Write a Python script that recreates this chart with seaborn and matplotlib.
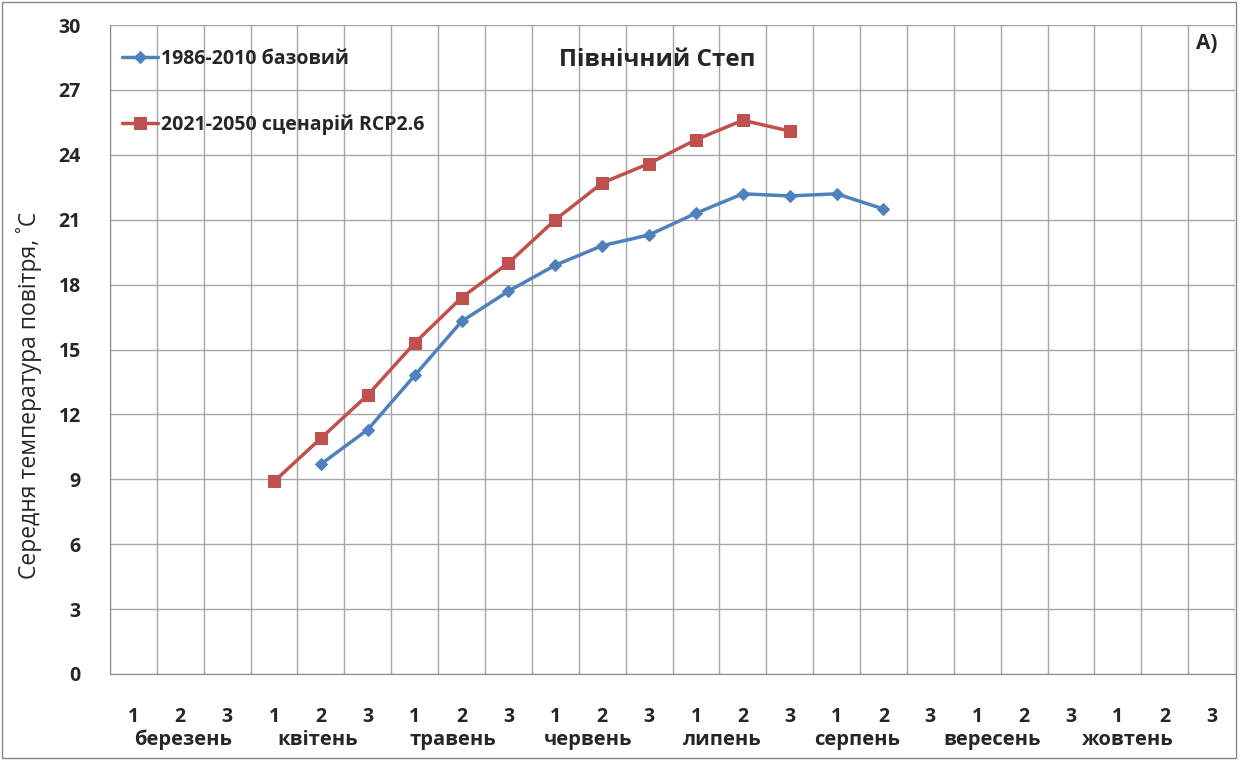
import numpy as np
import pandas as pd
import matplotlib
matplotlib.use("Agg")
import matplotlib.pyplot as plt
import seaborn as sns

months = ["березень", "квітень", "травень", "червень", "липень", "серпень", "вересень", "жовтень"]
decades = ["1", "2", "3"]
base_label = "1986-2010 базовий"
rcp_label = "2021-2050 сценарій RCP2.6"
# values by decade index (0..23), None = no data
base_vals = [None, None, None, None, 9.7, 11.3, 13.8, 16.3, 17.7, 18.9, 19.8, 20.3,
             21.3, 22.2, 22.1, 22.2, 21.5, None, None, None, None, None, None, None]
rcp_vals = [None, None, None, 8.9, 10.9, 12.9, 15.3, 17.4, 19.0, 21.0, 22.7, 23.6,
            24.7, 25.6, 25.1, None, None, None, None, None, None, None, None, None]
title = "Північний Степ"
ylabel = "Середня температура повітря, ˚С"
panel = "А)"

sns.set_style("white")
plt.rcParams['font.family'] = ['Open Sans', 'DejaVu Sans']

n = len(months) * len(decades)
idx = np.arange(n)
df = pd.DataFrame({
    "x": np.concatenate([idx, idx]),
    "y": np.array(base_vals + rcp_vals, dtype=float),
    "series": [base_label] * n + [rcp_label] * n,
}).dropna()

fig = plt.figure(figsize=(12.4, 7.6), dpi=100)
ax = fig.add_axes([0.0887, 0.1132, 0.9073, 0.8538])

colors = {base_label: "#4F81BD", rcp_label: "#C0504D"}
markers = {base_label: "D", rcp_label: "s"}
sizes = {base_label: 6.5, rcp_label: 9}
for s in [base_label, rcp_label]:
    sub = df[df.series == s]
    sns.lineplot(data=sub, x="x", y="y", ax=ax, color=colors[s], marker=markers[s],
                 markersize=sizes[s], markeredgecolor=colors[s], linewidth=2.5, label=s)

ax.set_xlim(-0.5, n - 0.5)
ax.set_ylim(0, 30)
ax.set_yticks(np.arange(0, 31, 3))
ax.set_yticklabels([str(v) for v in range(0, 31, 3)], fontsize=14, fontweight="bold")
ax.set_xticks(idx)
ax.set_xticklabels(decades * len(months), fontsize=14, fontweight="bold")
ax.set_xticks(np.arange(-0.5, n, 1), minor=True)
ax.tick_params(axis="x", which="major", length=0, pad=24)
ax.tick_params(axis="x", which="minor", length=7, color="#888888", width=1)
ax.tick_params(axis="y", which="major", length=5, color="#888888", width=1, pad=16)
ax.grid(True, axis="y", which="major", color="#A6A6A6", linewidth=1)
ax.grid(True, axis="x", which="minor", color="#A6A6A6", linewidth=1)
ax.grid(False, axis="x", which="major")
for sp in ["top", "right"]:
    ax.spines[sp].set_visible(False)
ax.spines["left"].set_color("#888888")
ax.spines["bottom"].set_color("#888888")
ax.set_xlabel("")
ax.set_ylabel(ylabel, fontsize=16.5)
ax.yaxis.set_label_coords(-0.06, 0.43)

for i, m in enumerate(months):
    ax.text(1.06 + i * 2.877, -0.1017, m, transform=ax.get_xaxis_transform(),
            ha="center", va="center", fontsize=14.5, fontweight="bold")

ax.text(0.486, 0.946, title, transform=ax.transAxes, ha="center", va="center",
        fontsize=17.5, fontweight="bold")
ax.text(0.975, 0.972, panel, transform=ax.transAxes, ha="center", va="center",
        fontsize=15, fontweight="bold")

leg = ax.legend(loc="upper left", bbox_to_anchor=(-0.005, 0.99), frameon=False,
                labelspacing=2.35, handlelength=1.85, handletextpad=0.15,
                prop={"size": 14, "weight": "bold"})

fig.patches.append(plt.Rectangle((0.002, 0.003), 0.995, 0.994, transform=fig.transFigure,
                                 fill=False, edgecolor="#888888", linewidth=1))
fig.savefig("out.png", dpi=100)
